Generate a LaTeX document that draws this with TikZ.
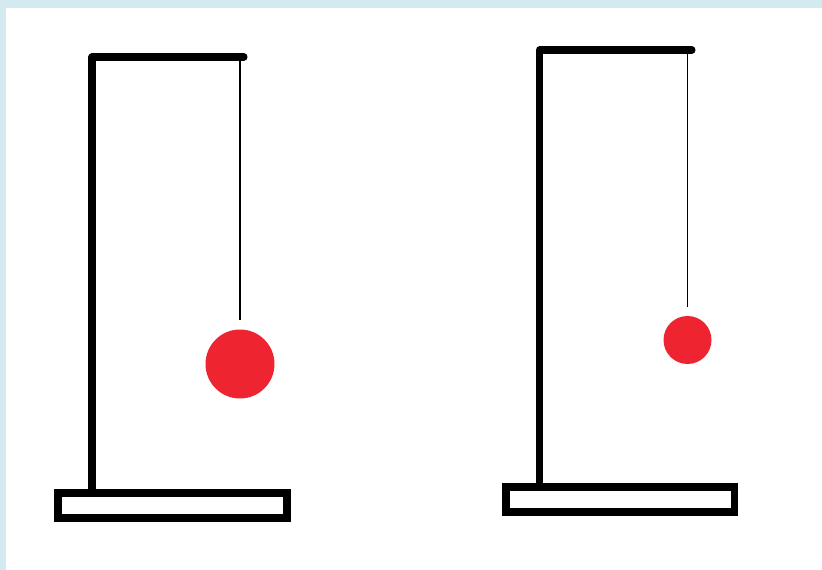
\documentclass[tikz,border=0pt]{standalone}
\usetikzlibrary{positioning}
\definecolor{framebg}{HTML}{D4EAF1}
\definecolor{bobred}{HTML}{EE2530}

\begin{document}
\begin{tikzpicture}[
      x=0.02cm, y=-0.02cm,
      stand/.style={line width=4pt, line cap=round, line join=round},
      basebox/.style={line width=4.5pt},
      thread/.style={line width=0.7pt, shorten >=0.18cm},
      bob/.style={circle, fill=bobred, inner sep=0pt, minimum size=#1},
    ]
    % frame
    \fill[framebg] (0,0) rectangle (822,570);
    \fill[white] (6,8) rectangle (822,570);
    \useasboundingbox (0,0) rectangle (822,570);

    % left pendulum
    \coordinate (lfoot) at (92,493);
    \coordinate (lcorner) at (92,57);
    \coordinate (lend) at (244,57);
    \draw[stand] (lfoot) -- (lcorner) -- (lend);
    \draw[basebox] (58,493) rectangle (287,518);
    \node[bob=1.38cm] (lbob) at (240,364) {};
    \coordinate (lhook) at (lbob.north |- lend);
    \draw[thread] (lhook) -- (lbob.north);

    % right pendulum
    \coordinate (rfoot) at (539.5,487);
    \coordinate (rcorner) at (539.5,50);
    \coordinate (rend) at (692,50);
    \draw[stand] (rfoot) -- (rcorner) -- (rend);
    \draw[basebox] (506,487) rectangle (734.5,512);
    \node[bob=0.96cm] (rbob) at (687.5,340) {};
    \coordinate (rhook) at (rbob.north |- rend);
    \draw[thread] (rhook) -- (rbob.north);
  \end{tikzpicture}
\end{document}
